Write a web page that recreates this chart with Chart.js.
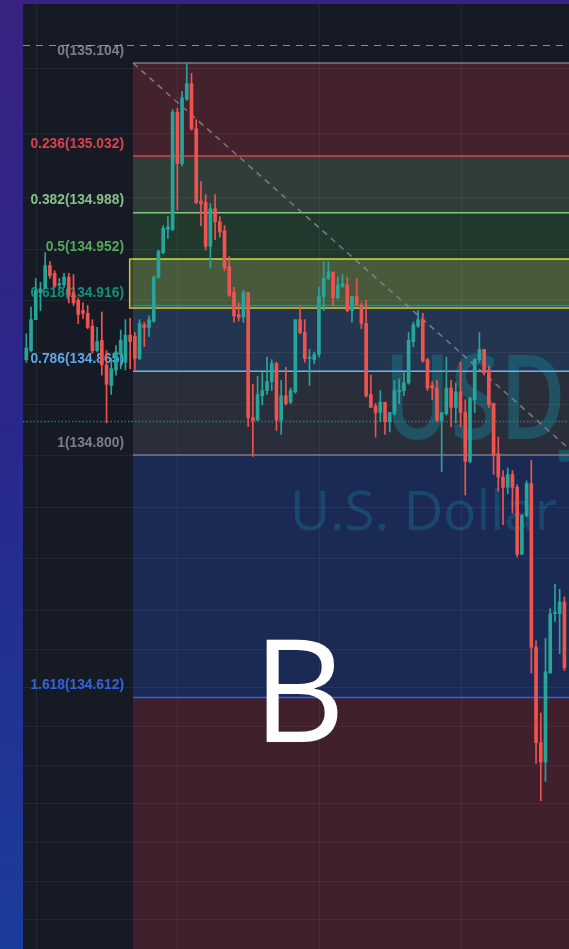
<!DOCTYPE html>
<html><head><meta charset="utf-8">
<script src="https://cdn.jsdelivr.net/npm/chart.js@4.4.0/dist/chart.umd.min.js"></script>
<style>html,body{margin:0;padding:0;background:#2a2c8c;overflow:hidden}canvas{display:block}</style>
</head><body>
<canvas id="c" width="569" height="949"></canvas>
<script>
// ---- candle data (USDJPY, prices) ----
const open = [
134.874,134.881,134.905,134.926,134.930,134.947,134.941,134.932,134.932,134.938,
134.926,134.920,134.912,134.910,134.900,134.881,134.889,134.870,134.854,134.866,
134.878,134.872,134.893,134.892,134.875,134.901,134.899,134.904,134.938,134.957,
134.975,134.975,135.066,135.026,135.076,135.088,135.053,134.997,134.996,134.962,
134.991,134.981,134.974,134.946,134.926,134.909,134.907,134.926,134.829,134.827,
134.846,134.850,134.857,134.871,134.827,134.846,134.841,134.849,134.905,134.895,
134.875,134.874,134.878,134.923,134.937,134.942,134.922,134.931,134.932,134.912,
134.923,134.916,134.902,134.847,134.838,134.833,134.841,134.826,134.832,134.849,
134.850,134.856,134.888,134.900,134.905,134.874,134.854,134.852,134.827,134.832,
134.852,134.837,134.849,134.833,134.795,134.843,134.874,134.882,134.866,134.840,
134.801,134.783,134.775,134.785,134.775,134.723,134.753,134.778,134.651,134.577,
134.562,134.631,134.677,134.677,134.686];
const high = [
134.894,134.915,134.937,134.934,134.957,134.950,134.943,134.937,134.941,134.941,
134.940,134.922,134.918,134.916,134.905,134.899,134.911,134.881,134.875,134.885,
134.897,134.905,134.906,134.895,134.905,134.903,134.908,134.939,134.959,134.978,
134.985,135.068,135.069,135.082,135.104,135.096,135.060,135.012,135.002,134.995,
135.002,134.985,134.978,134.954,134.930,134.918,134.928,134.926,134.855,134.861,
134.864,134.876,134.874,134.872,134.858,134.868,134.852,134.905,134.916,134.905,
134.882,134.880,134.930,134.950,134.950,134.942,134.938,134.940,134.938,134.923,
134.937,134.918,134.920,134.862,134.840,134.850,134.841,134.833,134.858,134.859,
134.864,134.895,134.903,134.912,134.910,134.875,134.857,134.858,134.833,134.876,
134.858,134.856,134.872,134.843,134.845,134.875,134.895,134.882,134.869,134.840,
134.814,134.788,134.790,134.788,134.777,134.754,134.780,134.796,134.656,134.600,
134.658,134.681,134.700,134.696,134.690];
const low = [
134.872,134.880,134.905,134.912,134.929,134.937,134.930,134.930,134.930,134.918,
134.916,134.902,134.906,134.898,134.879,134.880,134.862,134.825,134.847,134.862,
134.867,134.866,134.867,134.866,134.874,134.884,134.892,134.903,134.937,134.956,
134.968,134.974,134.990,135.024,135.075,135.052,134.995,134.978,134.959,134.945,
134.967,134.969,134.943,134.923,134.903,134.904,134.903,134.822,134.799,134.827,
134.839,134.847,134.850,134.819,134.816,134.839,134.840,134.848,134.894,134.872,
134.854,134.871,134.876,134.912,134.936,134.916,134.921,134.930,134.911,134.903,
134.916,134.898,134.845,134.837,134.814,134.826,134.816,134.818,134.831,134.840,
134.846,134.855,134.884,134.899,134.872,134.850,134.843,134.826,134.787,134.831,
134.822,134.825,134.822,134.769,134.794,134.833,134.872,134.862,134.837,134.785,
134.772,134.746,134.770,134.755,134.721,134.723,134.752,134.631,134.561,134.532,
134.547,134.631,134.671,134.646,134.633];
const close = [
134.883,134.905,134.928,134.929,134.947,134.939,134.931,134.933,134.938,134.924,
134.918,134.909,134.910,134.899,134.881,134.888,134.870,134.855,134.867,134.880,
134.889,134.893,134.888,134.875,134.902,134.899,134.905,134.938,134.958,134.976,
134.977,135.066,135.026,135.077,135.088,135.053,134.996,134.995,134.962,134.991,
134.981,134.973,134.945,134.924,134.908,134.907,134.926,134.829,134.827,134.847,
134.850,134.857,134.871,134.827,134.846,134.840,134.850,134.905,134.895,134.875,
134.876,134.878,134.923,134.937,134.942,134.922,134.932,134.933,134.912,134.923,
134.916,134.902,134.846,134.837,134.833,134.841,134.826,134.833,134.850,134.850,
134.856,134.889,134.901,134.905,134.873,134.852,134.852,134.827,134.833,134.852,
134.837,134.849,134.833,134.795,134.844,134.874,134.882,134.864,134.839,134.800,
134.783,134.775,134.785,134.775,134.723,134.753,134.778,134.651,134.577,134.562,
134.632,134.677,134.678,134.686,134.635];

// ---- Fibonacci retracement ----
const fibLevels = [0, 0.236, 0.382, 0.5, 0.618, 0.786, 1, 1.618];
const fibPrices = [135.104, 135.032, 134.988, 134.952, 134.916, 134.865, 134.800, 134.612];
const fibAnchorStart = 22.6;   // candle index of first anchor
const fibAnchorEnd = 116.5;    // candle index of second anchor
const rectPrices = [134.952, 134.914];   // highlighted box (top, bottom)
const rectStart = 21.9;

// ---- grid / price lines ----
const gridPrices = [135.100,135.050,135.000,134.960,134.920,134.880,134.840,134.800,134.760,134.720,134.680,134.650,134.620,134.590,134.560,134.530,134.500,134.470,134.440];
const gridCandles = [2, 32, 62, 92];
const dashedPrice = 135.118;
const dottedPrice = 134.826;
const xRange = [-0.7, 114.98];
const yRange = [134.417, 135.1498];

// ---- texts ----
const watermarkSymbol = 'USDJPY';
const watermarkName = 'U.S. Dollar / Japanese Yen';
const annotationText = 'B';

// ---- styles ----
const UP = '#26a69a', DOWN = '#ef5350';
const zoneColors = ['#43222e','#2f3e39','#22382d','#223a30','#243550','#2a2e3a','#1b2a55','#40202d'];
const lineColors = ['#787b86','#e0404c','#81c784','#4caf50','#089981','#64b5f6','#787b86','#2962ff'];
const labelColors = ['#7c7f88','#d9434f','#86c087','#55a858','#13907c','#5ea8e6','#7c7f88','#3464dc'];

const idx = open.map((_, i) => i);
const isUp = idx.map(i => close[i] >= open[i]);

const drawPlugin = {
  id: 'fibDraw',
  beforeDatasetsDraw(chart) {
    const {ctx, chartArea: ca, scales: {x, y}} = chart;
    const W = chart.width, H = chart.height;
    ctx.save();
    // page background
    const g = ctx.createLinearGradient(0, 0, 0, H);
    g.addColorStop(0, '#392280');
    g.addColorStop(0.45, '#29288a');
    g.addColorStop(1, '#1a3c9c');
    ctx.fillStyle = g;
    ctx.fillRect(0, 0, W, H);
    // panel
    ctx.fillStyle = '#161a25';
    ctx.fillRect(ca.left, ca.top, ca.right - ca.left, ca.bottom - ca.top);
    ctx.beginPath();
    ctx.rect(ca.left, ca.top, ca.right - ca.left, ca.bottom - ca.top);
    ctx.clip();

    const xs = x.getPixelForValue(fibAnchorStart);
    // zones
    for (let k = 0; k < fibPrices.length; k++) {
      const t = y.getPixelForValue(fibPrices[k]);
      const b = k < fibPrices.length - 1 ? y.getPixelForValue(fibPrices[k + 1]) : ca.bottom;
      ctx.fillStyle = zoneColors[k];
      ctx.fillRect(xs, t, ca.right - xs, b - t);
    }
    // highlighted rectangle fill
    const rx = x.getPixelForValue(rectStart);
    const rt = y.getPixelForValue(rectPrices[0]);
    const rb = y.getPixelForValue(rectPrices[1]);
    ctx.fillStyle = 'rgba(182,186,96,0.25)';
    ctx.fillRect(rx, rt, ca.right - rx + 5, rb - rt);

    // watermark
    ctx.fillStyle = 'rgba(22,118,138,0.5)';
    ctx.textBaseline = 'alphabetic';
    ctx.textAlign = 'left';
    ctx.save();
    ctx.translate(384, 439);
    ctx.scale(0.76, 1);
    ctx.font = '600 118px "Open Sans", sans-serif';
    ctx.fillText(watermarkSymbol, 0, 0);
    ctx.restore();
    ctx.fillStyle = 'rgba(22,108,138,0.45)';
    ctx.font = '400 55px "Open Sans", sans-serif';
    ctx.fillText(watermarkName, 290, 530);

    // grid
    ctx.strokeStyle = 'rgba(255,255,255,0.055)';
    ctx.lineWidth = 1;
    gridPrices.forEach(p => {
      const py = Math.round(y.getPixelForValue(p)) + 0.5;
      ctx.beginPath(); ctx.moveTo(ca.left, py); ctx.lineTo(ca.right, py); ctx.stroke();
    });
    gridCandles.forEach(c => {
      const px = Math.round(x.getPixelForValue(c)) + 0.5;
      ctx.beginPath(); ctx.moveTo(px, ca.top); ctx.lineTo(px, ca.bottom); ctx.stroke();
    });

    // level lines
    ctx.lineWidth = 1.5;
    fibPrices.forEach((p, k) => {
      const py = y.getPixelForValue(p);
      ctx.strokeStyle = lineColors[k];
      ctx.beginPath(); ctx.moveTo(xs, py); ctx.lineTo(ca.right, py); ctx.stroke();
    });
    // rectangle border
    ctx.strokeStyle = '#cdc52e';
    ctx.lineWidth = 1.5;
    ctx.strokeRect(rx, rt, ca.right - rx + 10, rb - rt);

    // labels
    ctx.font = 'bold 13.8px "Liberation Sans", Arial, sans-serif';
    ctx.textAlign = 'right';
    ctx.textBaseline = 'middle';
    fibLevels.forEach((lv, k) => {
      const py = y.getPixelForValue(fibPrices[k]);
      ctx.fillStyle = labelColors[k];
      ctx.fillText(lv + '(' + fibPrices[k].toFixed(3) + ')', xs - 9, py - 12);
    });

    // dashed price line
    ctx.setLineDash([7, 6]);
    ctx.strokeStyle = 'rgba(178,181,190,0.75)';
    ctx.lineWidth = 1;
    let py = Math.round(y.getPixelForValue(dashedPrice)) + 0.5;
    ctx.beginPath(); ctx.moveTo(ca.left, py); ctx.lineTo(ca.right, py); ctx.stroke();
    // dotted price line
    ctx.setLineDash([1.5, 2]);
    ctx.strokeStyle = 'rgba(34,150,132,0.8)';
    ctx.lineWidth = 1.5;
    py = y.getPixelForValue(dottedPrice);
    ctx.beginPath(); ctx.moveTo(ca.left, py); ctx.lineTo(ca.right, py); ctx.stroke();
    // diagonal trend line
    ctx.setLineDash([6, 5]);
    ctx.strokeStyle = 'rgba(140,143,152,0.8)';
    ctx.lineWidth = 1.5;
    ctx.beginPath();
    ctx.moveTo(x.getPixelForValue(fibAnchorStart), y.getPixelForValue(fibPrices[0]));
    ctx.lineTo(x.getPixelForValue(fibAnchorEnd), y.getPixelForValue(fibPrices[6]));
    ctx.stroke();
    ctx.restore();
  },
  afterDatasetsDraw(chart) {
    const {ctx} = chart;
    ctx.save();
    ctx.fillStyle = '#ffffff';
    ctx.font = '400 143px "Open Sans", sans-serif';
    ctx.textAlign = 'center';
    ctx.textBaseline = 'alphabetic';
    ctx.fillText(annotationText, 299, 742);
    ctx.restore();
  }
};

new Chart(document.getElementById('c'), {
  type: 'bar',
  data: {
    datasets: [
      {
        label: 'wick',
        data: idx.map(i => ({x: i, y: [low[i], high[i]]})),
        backgroundColor: idx.map(i => isUp[i] ? UP : DOWN),
        barThickness: 1, grouped: false, order: 2
      },
      {
        label: 'body',
        data: idx.map(i => ({x: i, y: [open[i], close[i]]})),
        backgroundColor: idx.map(i => isUp[i] ? UP : DOWN),
        barThickness: 3, minBarLength: 1, grouped: false, order: 1
      }
    ]
  },
  options: {
    responsive: false,
    animation: false,
    events: [],
    layout: {padding: {left: 23, top: 4, right: 0, bottom: 0}},
    plugins: {legend: {display: false}, tooltip: {enabled: false}},
    scales: {
      x: {type: 'linear', min: xRange[0], max: xRange[1], offset: false, display: false},
      y: {type: 'linear', min: yRange[0], max: yRange[1], display: false}
    }
  },
  plugins: [drawPlugin]
});
</script>
</body></html>
